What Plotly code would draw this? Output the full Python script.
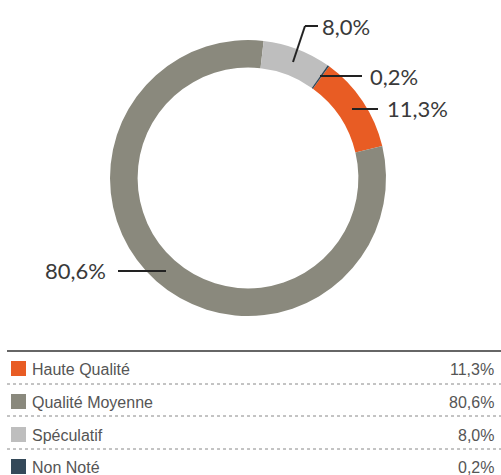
import plotly.graph_objects as go

# Répartition par qualité de crédit
categories = ["Haute Qualité", "Qualité Moyenne", "Spéculatif", "Non Noté"]
values = [11.3, 80.6, 8.0, 0.2]
colors = ["#E85C24", "#8A897D", "#BEBEBE", "#344959"]

W, H = 501, 475


def fx(px):
    return px / W


def fy(py):
    return 1 - py / H


def fmt(v):
    return f"{v:.1f}".replace(".", ",") + "%"


fig = go.Figure()
fig.add_trace(go.Pie(
    labels=categories,
    values=values,
    marker=dict(colors=colors, line=dict(width=0)),
    hole=0.8,
    sort=False,
    direction="clockwise",
    rotation=36,
    textinfo="none",
    hoverinfo="label+percent",
    showlegend=False,
    domain=dict(x=[fx(110), fx(386)], y=[fy(316), fy(40)]),
))

shapes = []
annotations = []
line_style = dict(color="#222222", width=2)

# Étiquettes des segments avec traits de rappel
# (index, points du trait en pixels, position du texte, ancrage)
callouts = [
    (2, [(293, 62), (305, 26), (318, 26)], (320, 26), "left"),
    (3, [(320, 76), (362, 76)], (368, 76), "left"),
    (0, [(352, 109), (378, 109)], (385, 109), "left"),
    (1, [(118, 271), (166, 271)], (108, 270), "right"),
]
for idx, pts, (tx, ty), anchor in callouts:
    for (x0, y0), (x1, y1) in zip(pts[:-1], pts[1:]):
        shapes.append(dict(type="line", xref="paper", yref="paper",
                           x0=fx(x0), y0=fy(y0), x1=fx(x1), y1=fy(y1),
                           line=line_style))
    annotations.append(dict(
        x=fx(tx), y=fy(ty), xref="paper", yref="paper",
        text=fmt(values[idx]), showarrow=False,
        xanchor=anchor, yanchor="middle",
        font=dict(family="Lato, Open Sans, sans-serif", size=22, color="#3a3a3a"),
    ))

# Tableau de légende
shapes.append(dict(type="line", xref="paper", yref="paper",
                   x0=fx(7), x1=1, y0=fy(351), y1=fy(351),
                   line=dict(color="#666666", width=2)))
row_y = [369, 402, 435, 467]
sep_y = [384, 416, 449]
for y in sep_y:
    shapes.append(dict(type="line", xref="paper", yref="paper",
                       x0=fx(7), x1=1, y0=fy(y), y1=fy(y),
                       line=dict(color="#888888", width=1, dash="dot")))
for cat, val, col, y in zip(categories, values, colors, row_y):
    shapes.append(dict(type="rect", xref="paper", yref="paper",
                       x0=fx(11), x1=fx(26), y0=fy(y - 8), y1=fy(y + 7),
                       fillcolor=col, line=dict(width=0)))
    annotations.append(dict(
        x=fx(30), y=fy(y), xref="paper", yref="paper", text=cat,
        showarrow=False, xanchor="left", yanchor="middle",
        font=dict(family="Liberation Sans, Arial, sans-serif", size=16, color="#555555"),
    ))
    annotations.append(dict(
        x=fx(496), y=fy(y), xref="paper", yref="paper", text=fmt(val),
        showarrow=False, xanchor="right", yanchor="middle",
        font=dict(family="Liberation Sans, Arial, sans-serif", size=16, color="#555555"),
    ))

fig.update_layout(
    width=W, height=H,
    margin=dict(l=0, r=0, t=0, b=0),
    paper_bgcolor="white", plot_bgcolor="white",
    shapes=shapes, annotations=annotations,
)

fig.write_html("out.html")
